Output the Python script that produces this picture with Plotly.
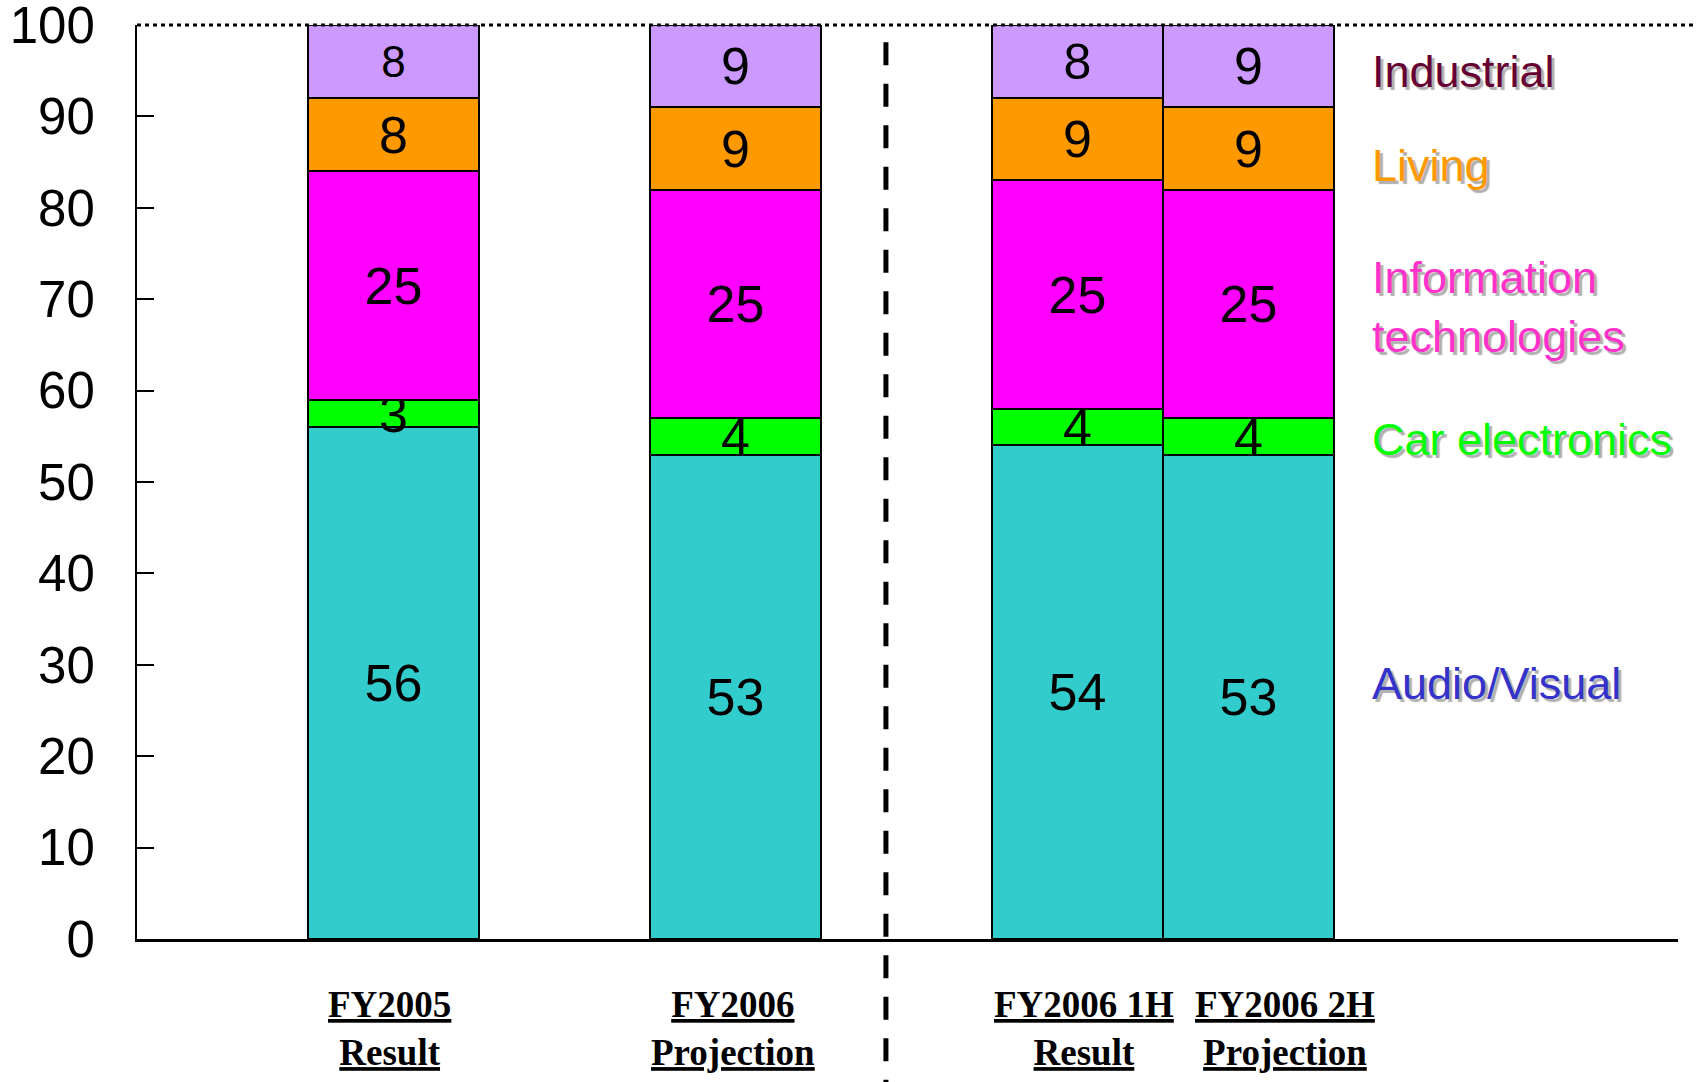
import plotly.graph_objects as go

# ---- data ----
categories = ["FY2005 Result", "FY2006 Projection", "FY2006 1H Result", "FY2006 2H Projection"]
cat_pos = [0, 2, 4, 5]
label_line1 = ["FY2005", "FY2006", "FY2006 1H", "FY2006 2H"]
label_line2 = ["Result", "Projection", "Result", "Projection"]

segments = ["Audio/Visual", "Car electronics", "Information technologies", "Living", "Industrial"]
audio_visual = [56, 53, 54, 53]
car_electronics = [3, 4, 4, 4]
information_tech = [25, 25, 25, 25]
living = [8, 9, 9, 9]
industrial = [8, 9, 8, 9]

y_ticks = [0, 10, 20, 30, 40, 50, 60, 70, 80, 90, 100]

# ---- style ----
bar_colors = ["#33CCCC", "#00FF00", "#FF00FF", "#FF9900", "#CC99FF"]
label_colors = ["#3333CC", "#00FF00", "#FF33CC", "#FF9900", "#660033"]
label_text = ["Audio/Visual", "Car electronics", "Information<br>technologies", "Living", "Industrial"]
label_y = [28, 54.7, 69.1, 84.6, 94.9]
text_sizes = [
    [52, 52, 52, 52],
    [52, 52, 52, 52],
    [52, 52, 52, 52],
    [52, 52, 52, 52],
    [44, 52, 50, 52],
]

series = [audio_visual, car_electronics, information_tech, living, industrial]

fig = go.Figure()
for name, vals, col, sizes in zip(segments, series, bar_colors, text_sizes):
    fig.add_trace(go.Bar(
        x=cat_pos, y=vals, name=name, width=1,
        marker=dict(color=col, line=dict(color="black", width=2)),
        text=[str(v) for v in vals], textposition="inside",
        insidetextanchor="middle", textangle=0, constraintext="none",
        textfont=dict(family="Liberation Sans, Arial", size=sizes, color="black"),
        hoverinfo="skip",
    ))

annotations = []
shifts = [-4, -3, 6, 36]
for xp, l1, l2, sh in zip(cat_pos, label_line1, label_line2, shifts):
    annotations.append(dict(
        x=xp, xref="x", y=0, yref="paper", yanchor="top", xanchor="center",
        xshift=sh, yshift=-43, showarrow=False, align="center",
        text=f"<b><u>{l1}</u></b><br><b><u>{l2}</u></b>",
        font=dict(family="Liberation Serif, Times New Roman", size=37, color="black"),
    ))
for txt, col, yv in zip(label_text, label_colors, label_y):
    annotations.append(dict(
        x=5.71, xref="x", y=yv, yref="y", xanchor="left", yanchor="middle",
        showarrow=False, align="left", text=txt,
        font=dict(family="Liberation Sans, Arial", size=45, color=col,
                  shadow="3px 3px 1px #b0b0b0"),
    ))

shapes = [
    dict(type="line", xref="paper", yref="paper", x0=0, x1=1.0123, y0=1, y1=1,
         line=dict(color="black", width=3, dash="4px,4px"), layer="above"),
    dict(type="line", xref="paper", yref="paper", x0=0.486, x1=0.486, y0=0.981, y1=-0.16,
         line=dict(color="black", width=5, dash="23px,18.5px"), layer="above"),
]

fig.update_layout(
    width=1700, height=1082,
    margin=dict(l=137, r=22, t=25, b=143, autoexpand=False),
    barmode="stack", bargap=0,
    showlegend=False,
    plot_bgcolor="white", paper_bgcolor="white",
    annotations=annotations, shapes=shapes,
    xaxis=dict(range=[-1.5, 7.51], showticklabels=False, ticks="", showgrid=False,
               zeroline=False, showline=True, linecolor="black", linewidth=3,
               automargin=False),
    yaxis=dict(range=[0, 100], tickvals=y_ticks, ticks="inside", ticklen=17,
               tickwidth=2, tickcolor="black", showgrid=False, zeroline=False,
               showline=True, linecolor="black", linewidth=2, automargin=False,
               tickfont=dict(family="Liberation Sans, Arial", size=51, color="black"),
               ticklabelstandoff=30, ticklabeloverflow="allow"),
)

fig.write_html("out.html")
